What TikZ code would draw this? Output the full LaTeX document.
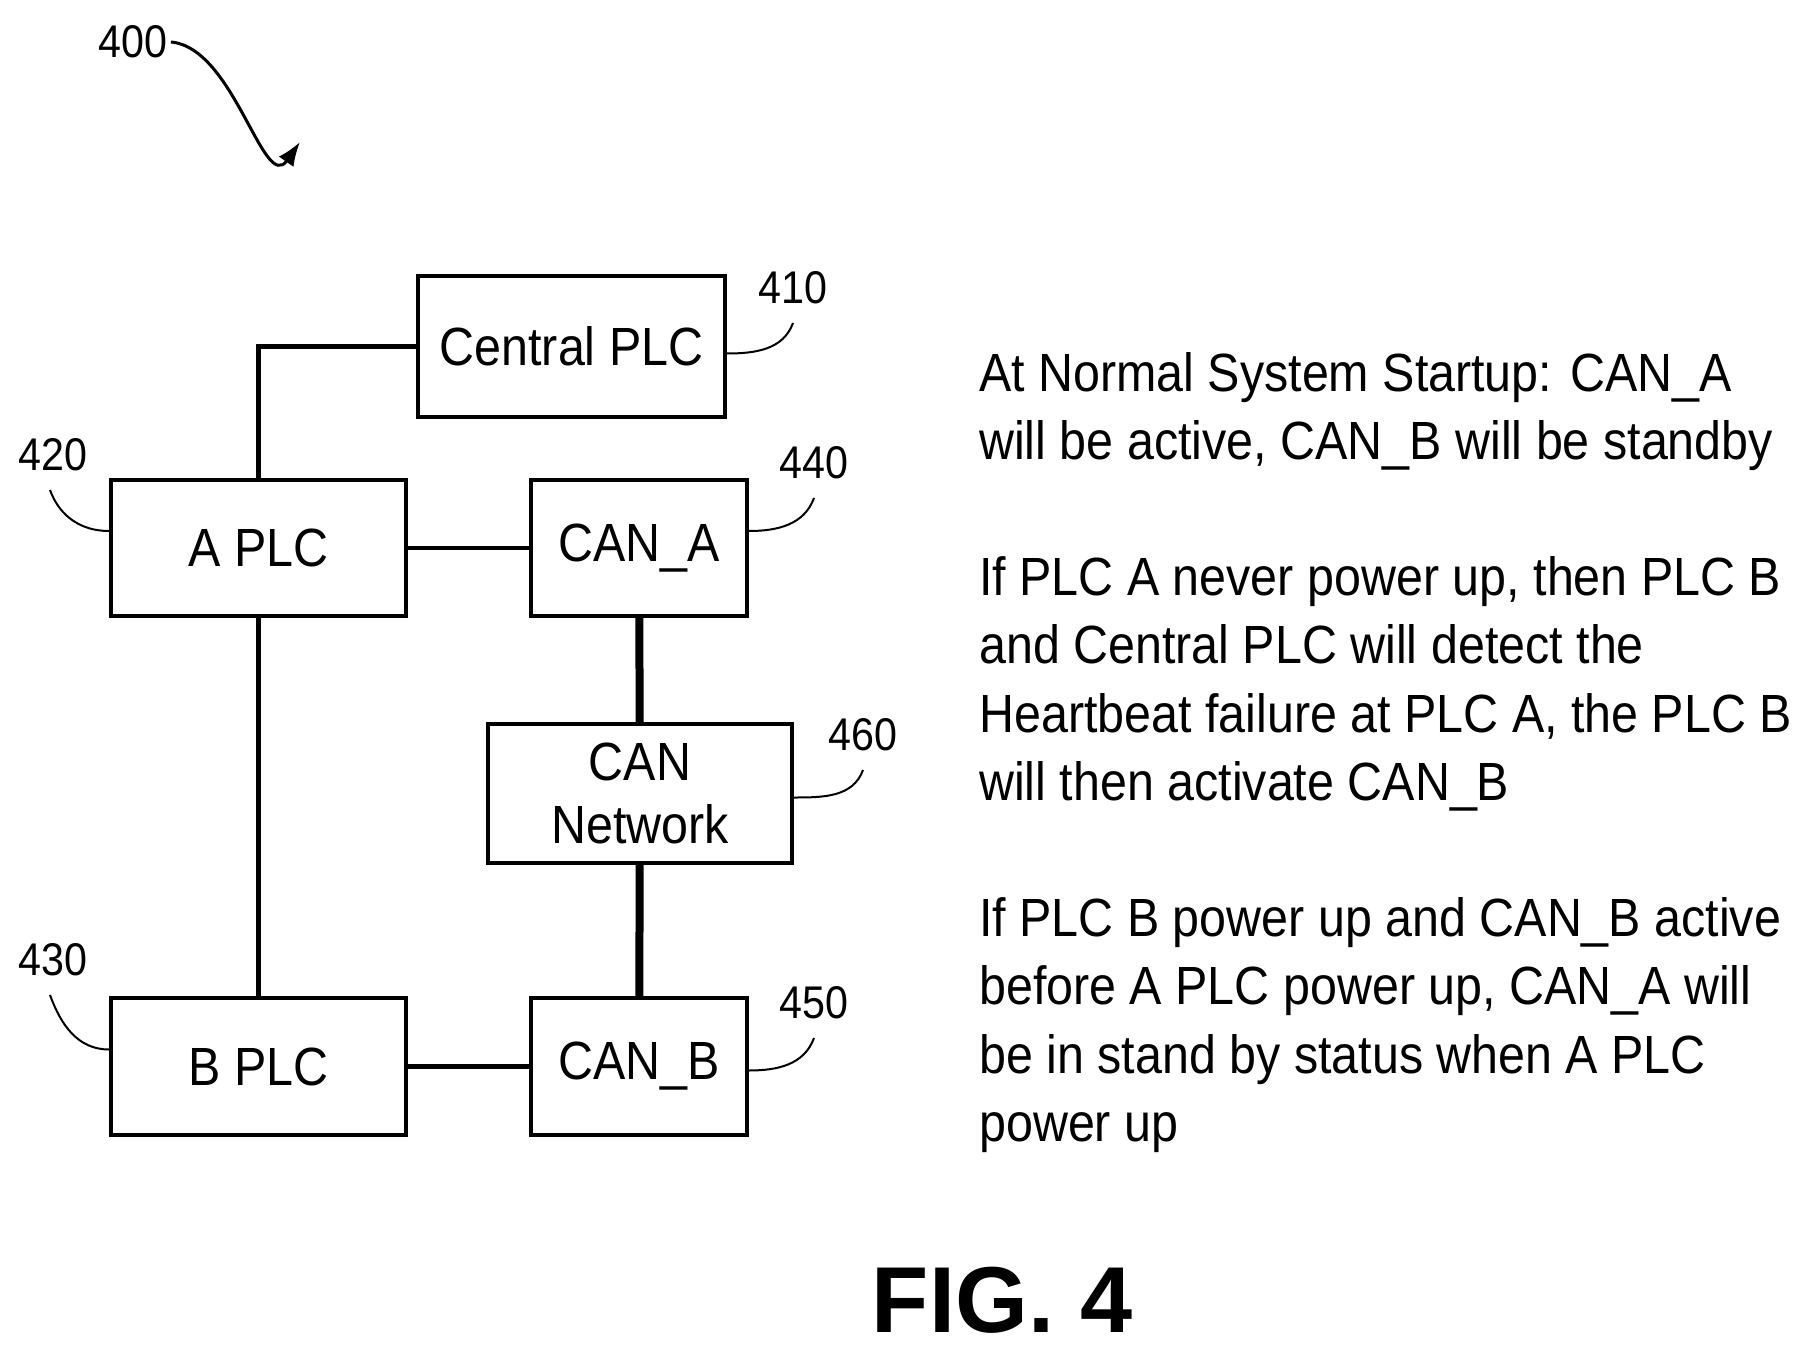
\documentclass[tikz,border=0pt]{standalone}
\usepackage{fontspec}
\setmainfont{Liberation Sans}[FakeStretch=0.9]
\usetikzlibrary{positioning,arrows.meta}
\tikzset{
  blk/.style={draw, line width=4bp, inner sep=0pt, align=center, font=\fontsize{54}{64}\selectfont},
  ref/.style={font=\fontsize{46}{50}\selectfont},
  lead/.style={line width=2bp},
  wire/.style={line width=4.5bp},
}
\begin{document}
\begin{tikzpicture}[x=1bp,y=-1bp]
	\useasboundingbox (0,0) rectangle (1797,1355);
	% blocks
	\node[blk, minimum width=307bp, minimum height=141bp] (cplc) at (571.5,346.5) {Central PLC};
	\node[blk, minimum width=295bp, minimum height=136bp] (aplc) at (258.5,548) {A PLC};
	\node[blk, minimum width=216bp, minimum height=136bp] (cana) at (639,548) {CAN\_A};
	\node[blk, minimum width=304bp, minimum height=139bp] (cann) at (640,793.5) {CAN\\Network};
	\node[blk, minimum width=295bp, minimum height=137bp] (bplc) at (258.5,1066.5) {B PLC};
	\node[blk, minimum width=216bp, minimum height=137bp] (canb) at (639,1066.5) {CAN\_B};
	% connections
	\draw[wire] (cplc.west) -| (aplc.north);
	\draw[wire] (aplc.south) -- (bplc.north);
	\draw[wire] (aplc) -- (cana);
	\draw[wire] (bplc) -- (canb);
	\draw[line width=8bp] (cana) -- (cann);
	\draw[line width=8bp] (cann) -- (canb);
	% reference numerals
	\node[ref] (n400) at (133,42) {400};
	\node[ref] (n410) at (793,288) {410};
	\node[ref] (n420) at (53,455) {420};
	\node[ref] (n440) at (814,463) {440};
	\node[ref] (n460) at (863,735) {460};
	\node[ref] (n430) at (53,960) {430};
	\node[ref] (n450) at (814,1003) {450};
	\coordinate (tip400) at (300,142);
	\draw[line width=3bp, -{Latex[length=24bp,width=18bp]}] (n400.east) to[out=-5,in=235] (tip400);
	\draw[lead] (cplc.east) ++(0,7) to[out=0,in=-110] (793,323);
	\draw[lead] (cana.east) ++(0,-17) to[out=0,in=-110] (814,498);
	\draw[lead] (cann.east) ++(0,4) to[out=0,in=-110] (863,770);
	\draw[lead] (canb.east) ++(0,4) to[out=0,in=-110] (814,1038);
	\draw[lead] (aplc.west) ++(0,-17) to[out=180,in=-70] (50,490);
	\draw[lead] (bplc.west) ++(0,-17) to[out=180,in=-70] (50,995);
	% description
	\node[anchor=north west, align=left, inner sep=0pt, font=\fontsize{54}{68.5}\selectfont] (desc) at (979,352)
	  {At Normal System Startup: CAN\_A\\will be active, CAN\_B will be standby\\[68bp]
	   If PLC A never power up, then PLC B\\and Central PLC will detect the\\Heartbeat failure at PLC A, the PLC B\\will then activate CAN\_B\\[68bp]
	   If PLC B power up and CAN\_B active\\before A PLC power up, CAN\_A will\\be in stand by status when A PLC\\power up};
	\node[font=\fontsize{94}{100}\selectfont\bfseries\addfontfeature{FakeStretch=1}] (fig) at (1002,1300) {FIG. 4};
\end{tikzpicture}
\end{document}
